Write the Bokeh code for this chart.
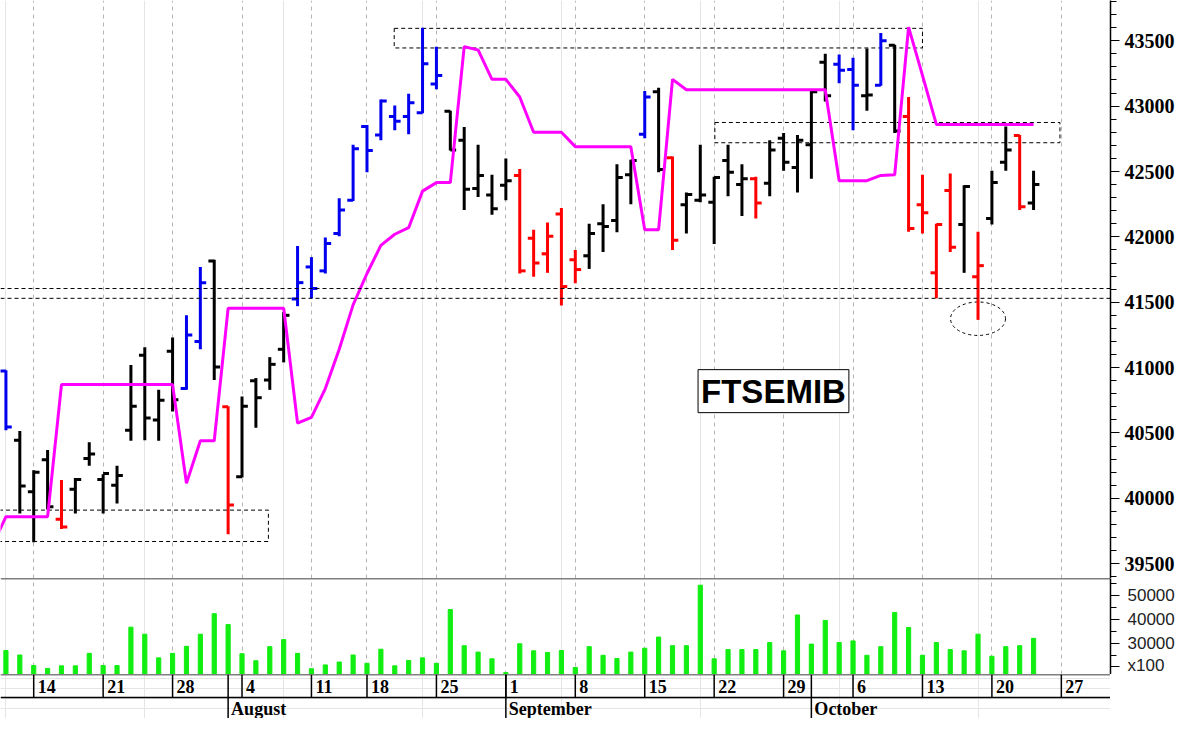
import pandas as pd
from bokeh.plotting import figure
from bokeh.layouts import column
from bokeh.models import (ColumnDataSource, FixedTicker, SingleIntervalTicker, Range1d,
                          Span, Label, Grid)
from bokeh.core.properties import value
from bokeh.embed import file_html
from bokeh.resources import INLINE

# ---------------- data ----------------
# trading calendar: Jul 9 .. Oct 27 2025 (Aug 15 closed)
trading_days = [d for d in pd.bdate_range("2025-07-09", "2025-10-27")
                if d != pd.Timestamp("2025-08-15")]

# OHLC bars, Jul 10 .. Oct 23
opens = [40975, 40445, 40050, 40295, 39840, 40070, 40305, 40145, 40100, 40520,
         41095, 40600, 41125, 40840, 41200, 41815, 40700, 40165, 40900, 40905,
         41140, 41525, 41770, 41740, 42025, 42280, 42845, 42780, 42920, 42920,
         42950, 43170, 42960, 42740, 42370, 42320, 42395, 42470, 41990, 41870,
         42175, 41825, 41855, 42100, 42125, 42475, 42785, 43110, 42605, 42245,
         42280, 42265, 42585, 42400, 42445, 42410, 42755, 42530, 42705, 43335,
         43320, 43280, 43080, 43160, 43465, 42920, 42245, 41725, 42355, 42095,
         41695, 42140, 42570, 42775, 42260]
highs = [40980, 40515, 40215, 40370, 40140, 40155, 40430, 40185, 40250, 41020,
         41155, 40830, 41230, 41400, 41770, 41825, 40705, 40780, 40920, 41080,
         41425, 41930, 41845, 41995, 42295, 42705, 42855, 43050, 43005, 43095,
         43600, 43455, 42965, 42840, 42705, 42475, 42600, 42520, 42055, 42110,
         42220, 41900, 42100, 42250, 42555, 42590, 43115, 43140, 42615, 42340,
         42705, 42460, 42705, 42555, 42460, 42740, 42795, 42780, 43115, 43400,
         43395, 43370, 43440, 43560, 43470, 43070, 42475, 42100, 42485, 42395,
         42040, 42505, 42845, 42780, 42505]
lows = [40520, 39885, 39665, 39915, 39765, 39885, 40250, 39885, 39960, 40440,
        40445, 40440, 40665, 40830, 41140, 40905, 39725, 40160, 40540, 40830,
        41040, 41470, 41530, 41720, 42005, 42275, 42495, 42740, 42815, 42785,
        42945, 43130, 42660, 42205, 42305, 42170, 42280, 41720, 41695, 41725,
        41475, 41645, 41755, 41885, 42035, 42250, 42755, 42495, 41900, 42025,
        42265, 41945, 42310, 42160, 42140, 42310, 42505, 42340, 42445, 43035,
        43175, 42815, 42965, 43155, 42795, 42040, 42025, 41530, 41885, 41725,
        41365, 42095, 42505, 42205, 42205]
closes = [40545, 40095, 40200, 39935, 39780, 40145, 40340, 40190, 40175, 40705,
          40615, 40750, 40755, 41250, 41650, 41005, 39950, 40705, 40770, 41025,
          41400, 41650, 41605, 41950, 42205, 42675, 42660, 43040, 42885, 43025,
          43325, 43235, 42665, 42365, 42470, 42215, 42430, 41740, 41800, 42005,
          41620, 41750, 42025, 42080, 42455, 42585, 43070, 42515, 41975, 42325,
          42320, 42455, 42495, 42445, 42260, 42665, 42570, 42740, 43110, 43080,
          43275, 43160, 43085, 43500, 42810, 42065, 42185, 42095, 41920, 42385,
          41780, 42415, 42665, 42230, 42400]
# bar colour codes: b = blue, k = black, r = red
bar_codes = ("bkkkrkkkkkkkkbbkrkkkk" "bbbbbbbbbbb" "kkkkk" "rrrrr" "kkkk" "bkr"
             "kkkkk" "r" "kkkkk" "bbkbk" "rrrr" "krkkrk")
# volume (x100), Jul 10 .. Oct 23
volumes = [27070, 25200, 20800, 19600, 20670, 20670, 25870, 20800, 20800, 36800,
           33870, 24000, 25870, 28800, 33870, 42400, 37870, 25730, 22800, 28670,
           31600, 25870, 19470, 21070, 22270, 25200, 21730, 27600, 20670, 22930,
           24000, 21730, 44130, 29070, 26400, 23600, 17870, 29870, 26930, 26270,
           27070, 20000, 28670, 25070, 23730, 26400, 28000, 32670, 29070, 29070,
           54270, 23600, 27470, 27470, 27470, 30400, 26930, 41870, 29730, 39600,
           30400, 31070, 25070, 28670, 42930, 36670, 25070, 30400, 27470, 26930,
           33870, 24670, 28670, 29070, 32130]
# magenta stop line, Jul 9 .. Oct 23
stop_line = [39630,
             39860, 39860, 39860, 39860,
             40870, 40870, 40870, 40870, 40870, 40870, 40870, 40870, 40870,
             40115, 40440, 40440,
             41455, 41455, 41455, 41455, 41455,
             40575, 40620, 40840, 41140, 41480, 41720, 41935, 42020, 42070, 42350,
             42415, 42415, 43455, 43430, 43205, 43205, 43070,
             42800, 42800, 42800,
             42690, 42690, 42690, 42690, 42690,
             42055, 42055, 43205,
             43125, 43125, 43125, 43125, 43125, 43125, 43125, 43125, 43125, 43125, 43125,
             42430, 42430, 42430, 42470, 42475, 43605, 43235,
             42860, 42860, 42860, 42860, 42860, 42860, 42860, 42860]
# dashed boxes (x in trading-day index, y in price)
box_left = [-1.0, 27.96, 51.05]
box_right = [18.9, 66.0, 75.9]
box_bottom = [39670, 43445, 42720]
box_top = [39910, 43595, 42875]
support_levels = [41605, 41530]
circle_x = [70.0]
circle_y = [41374]
circle_w = [3.96]
circle_h = [256]
title_text = "FTSEMIB"
title_x, title_y = 55.27, 40820

price_range = (39387, 43808)
volume_range = (17067, 57067)
volume_ticks = [30000, 40000, 50000]
volume_minor = [25000, 35000, 45000, 55000]
volume_unit_tick = 20400
volume_unit_text = "x100"

# ---------------- derived ----------------
idx = {d: i - 1 for i, d in enumerate(trading_days)}
bar_x = [idx[d] for d in trading_days[1:76]]
line_x = [idx[d] for d in trading_days[0:76]]
mondays = [idx[d] for d in trading_days if d.weekday() == 0]
day_labels = [str(d.day) for d in trading_days if d.weekday() == 0]
month_days = [d for i, d in enumerate(trading_days) if i > 0 and d.month != trading_days[i - 1].month]
month_starts = [idx[d] for d in month_days]
month_labels = [d.strftime("%B") for d in month_days]

palette = {"b": "#0000ee", "k": "#000000", "r": "#ff0000"}
src = ColumnDataSource(dict(
    x=bar_x, o=opens, h=highs, l=lows, c=closes, v=volumes,
    xl=[x - 0.42 for x in bar_x], xr=[x + 0.42 for x in bar_x],
    col=[palette[c] for c in bar_codes]))

FW = 1110
xr = Range1d(-0.391, 79.54)
GRID = dict(grid_line_color="#b4b4b4", grid_line_dash="4 4", grid_line_width=1)

# ---------------- price panel ----------------
p = figure(frame_width=FW, frame_height=578, x_range=xr, y_range=Range1d(*price_range),
           x_axis_location=None, y_axis_location="right", output_backend="svg",
           toolbar_location=None, min_border=0)
p.outline_line_color = None
p.ygrid.visible = False
p.add_layout(Grid(dimension=0, ticker=FixedTicker(ticks=mondays), **GRID))

ya = p.yaxis[0]
ya.ticker = SingleIntervalTicker(interval=500, num_minor_ticks=5)
ya.axis_line_width = 1.5
ya.major_tick_out = 9
ya.major_tick_in = 0
ya.minor_tick_out = 6
ya.minor_tick_in = 0
ya.major_label_standoff = 5
ya.major_label_text_font = "Liberation Serif"
ya.major_label_text_font_style = "bold"
ya.major_label_text_font_size = "20px"
ya.major_label_text_color = "black"

p.quad(left=box_left, right=box_right, bottom=box_bottom, top=box_top,
       fill_color=None, line_color="black", line_dash="4 3", line_width=1)
for lvl in support_levels:
    p.add_layout(Span(location=lvl, dimension="width", line_color="black",
                      line_dash="4 3", line_width=1))
p.ellipse(x=circle_x, y=circle_y, width=circle_w, height=circle_h,
          fill_color=None, line_color="black", line_dash="3 3", line_width=1)

p.segment("x", "l", "x", "h", source=src, line_color="col", line_width=3)
p.segment("xl", "o", "x", "o", source=src, line_color="col", line_width=3)
p.segment("x", "c", "xr", "c", source=src, line_color="col", line_width=3)
p.line(line_x, stop_line, line_color="#ff00ff", line_width=3)

p.add_layout(Label(x=title_x, y=title_y, text=title_text, text_align="center",
                   text_baseline="middle", text_font="Liberation Sans",
                   text_font_style="bold", text_font_size="33px", text_color="black",
                   border_line_color="black", border_line_width=1,
                   background_fill_color="white", padding=3))

# ---------------- volume panel ----------------
v = figure(frame_width=FW, frame_height=96, x_range=xr, y_range=Range1d(*volume_range),
           x_axis_location=None, y_axis_location="right", output_backend="svg",
           toolbar_location=None, min_border=0)
v.outline_line_color = None
v.ygrid.visible = False
v.add_layout(Grid(dimension=0, ticker=FixedTicker(ticks=mondays), **GRID))
v.vbar(x="x", top="v", bottom=0, width=0.3, source=src, color="#11ee11")
v.add_layout(Span(location=volume_range[1], dimension="width", line_color="black", line_width=1.5))

va = v.yaxis[0]
va.ticker = FixedTicker(ticks=volume_ticks + [volume_unit_tick], minor_ticks=volume_minor)
va.major_label_overrides = {volume_unit_tick: volume_unit_text}
va.axis_line_width = 1.5
va.major_tick_out = 9
va.major_tick_in = 0
va.minor_tick_out = 6
va.minor_tick_in = 0
va.major_label_standoff = 8
va.major_label_text_font = "Liberation Sans"
va.major_label_text_font_size = "17px"
va.major_label_text_color = "#222222"

# ---------------- date axis (two rows) ----------------
ax = figure(frame_width=FW, frame_height=44, x_range=xr, y_range=Range1d(0, 44),
            x_axis_location=None, y_axis_location=None, output_backend="svg",
            toolbar_location=None, min_border=0)
ax.outline_line_color = None
ax.add_layout(Span(location=44, dimension="width", line_color="black", line_width=1.5))
ax.add_layout(Span(location=21, dimension="width", line_color="black", line_width=1.5))
ax.segment(x0=mondays, y0=21, x1=mondays, y1=44, line_color="black", line_width=1.5)
ax.segment(x0=month_starts, y0=0, x1=month_starts, y1=44, line_color="black", line_width=1.5)
ax.text(x=mondays, y=32.5, text=day_labels, text_align="left", text_baseline="middle",
        x_offset=4, text_font=value("Liberation Serif"), text_font_style="bold",
        text_font_size="18px", text_color="black")
ax.text(x=month_starts, y=9.5, text=month_labels, text_align="left", text_baseline="middle",
        x_offset=3, text_font=value("Liberation Serif"), text_font_style="bold",
        text_font_size="18px", text_color="black")

layout = column(p, v, ax, spacing=0)
open("out.html", "w").write(file_html(layout, INLINE))
